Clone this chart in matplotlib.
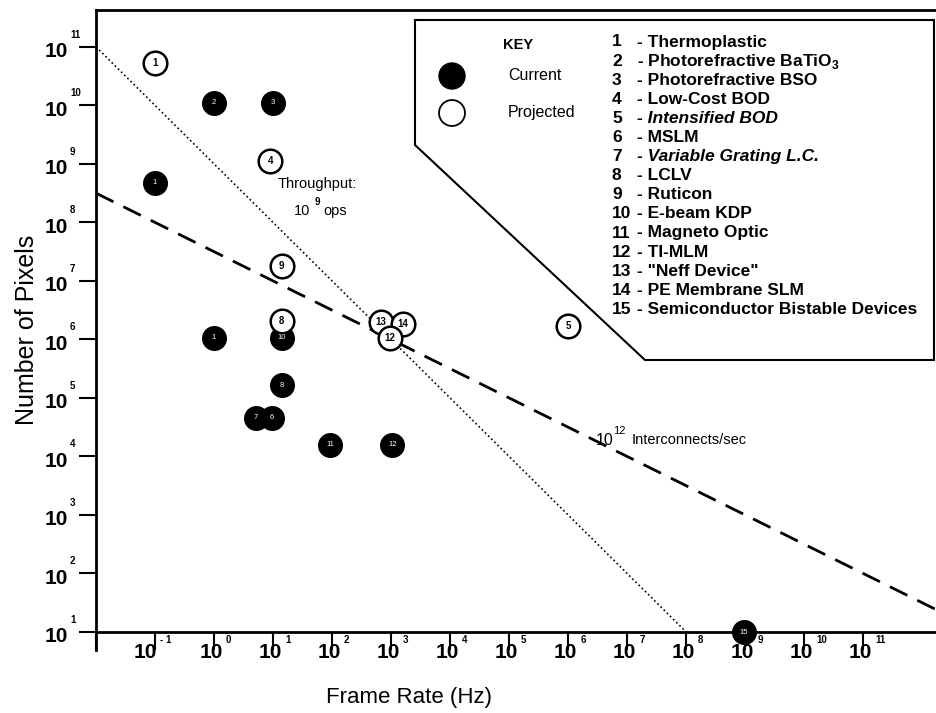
import matplotlib
matplotlib.use('Agg')
import matplotlib.pyplot as plt
import matplotlib.patches as patches
import numpy as np

plt.rcParams['font.family'] = ['Liberation Sans', 'DejaVu Sans']
plt.rcParams['mathtext.fontset'] = 'custom'
plt.rcParams['mathtext.rm'] = 'Liberation Sans:bold'

W, H = 937, 713

# current devices (filled)
cur_rate = [1e-1, 1, 10, 1, 14, 14, 5.1, 9.5, 93, 1050, 9.5e8]
cur_pix = [4.8e8, 1.1e10, 1.1e10, 1.07e6, 1.07e6, 1.66e5, 4.6e4, 4.6e4, 1.6e4, 1.6e4, 10]
cur_id = ['1', '2', '3', '1', '10', '8', '7', '6', '11', '12', '15']

# projected devices (open)
proj_rate = [1e-1, 9, 14, 14, 680, 1580, 955, 1e6]
proj_pix = [5.4e10, 1.1e9, 1.8e7, 2.1e6, 2.0e6, 1.8e6, 1.07e6, 1.7e6]
proj_id = ['1', '4', '9', '8', '13', '14', '12', '5']

# key entries
key_num = [str(i) for i in range(1, 16)]
key_name = ['Thermoplastic', r'Photorefractive BaTiO$_3$', 'Photorefractive BSO',
            'Low-Cost BOD', 'Intensified BOD', 'MSLM', 'Variable Grating L.C.',
            'LCLV', 'Ruticon', 'E-beam KDP', 'Magneto Optic', 'TI-MLM',
            '"Neff Device"', 'PE Membrane SLM', 'Semiconductor Bistable Devices']
key_italic = [5, 7]

x_exp = list(range(-1, 12))
y_exp = list(range(1, 12))

# throughput lines
rate_line = np.logspace(-2, 12.25, 200)
ops = 1e9                       # N * f
interconnect = 10 ** 7.5        # N * sqrt(f)


def fx(px):
    return px / W


def fy(py):
    return 1 - py / H


fig = plt.figure(figsize=(W / 100, H / 100), dpi=100)
ax = fig.add_axes([fx(96), fy(632), fx(937) - fx(96), fy(10) - fy(632)])
ax.set_xscale('log')
ax.set_yscale('log')
ax.set_xlim(1e-2, 10 ** 12.25)
ax.set_ylim(10, 10 ** 11.63)

for s in ['left', 'top', 'bottom']:
    ax.spines[s].set_linewidth(2)
ax.spines['right'].set_visible(False)
ax.spines['left'].set_bounds(10 ** 0.7, 10 ** 11.63)
ax.spines['left'].set_clip_on(False)

ax.set_xticks([10.0 ** e for e in range(-2, 12)])
ax.set_yticks([10.0 ** e for e in y_exp])
ax.minorticks_off()
ax.tick_params(axis='x', direction='out', length=13, width=1.5, labelbottom=False)
ax.tick_params(axis='y', direction='out', length=12, width=1.5, labelleft=False)

# power-of-ten tick labels
for e in x_exp:
    sup = str(e) if e >= 0 else '- 1'
    shift = 9 if e >= 0 else 2
    ax.annotate('10', xy=(10.0 ** e, 0), xycoords=('data', 'axes fraction'),
                xytext=(shift, -21), textcoords='offset pixels', ha='right', va='center',
                fontsize=15, fontweight='bold', annotation_clip=False)
    ax.annotate(sup, xy=(10.0 ** e, 0), xycoords=('data', 'axes fraction'),
                xytext=(shift + 3, -8), textcoords='offset pixels', ha='left', va='center',
                fontsize=7, fontweight='bold', annotation_clip=False)
for e in y_exp:
    ax.annotate('10', xy=(0, 10.0 ** e), xycoords=('axes fraction', 'data'),
                xytext=(-28, -5), textcoords='offset pixels', ha='right', va='center',
                fontsize=15, fontweight='bold', annotation_clip=False)
    ax.annotate(str(e), xy=(0, 10.0 ** e), xycoords=('axes fraction', 'data'),
                xytext=(-26, 12), textcoords='offset pixels', ha='left', va='center',
                fontsize=7, fontweight='bold', annotation_clip=False)

ax.set_xlabel('Frame Rate (Hz)', fontsize=16)
ax.set_ylabel('Number of Pixels', fontsize=18)
ax.xaxis.set_label_coords(0.372, -0.088)
ax.yaxis.set_label_coords(-0.068, 0.486)

# throughput lines
ax.plot(rate_line, ops / rate_line, color='black', linestyle=':', linewidth=1.2)
ax.plot(rate_line, interconnect / np.sqrt(rate_line), color='black',
        linestyle=(0, (7, 4)), linewidth=2)

ax.text(10 ** 1.08, 10 ** 8.66, 'Throughput:', fontsize=10.5, ha='left', va='center')
ax.text(10 ** 1.35, 10 ** 8.2, '10', fontsize=10.5, ha='left', va='center')
ax.text(10 ** 1.7, 10 ** 8.35, '9', fontsize=7, ha='left', va='center', fontweight='bold')
ax.text(10 ** 1.85, 10 ** 8.2, 'ops', fontsize=10.5, ha='left', va='center')
ax.text(10 ** 6.47, 10 ** 4.28, '10', fontsize=11.5, ha='left', va='center')
ax.text(10 ** 6.77, 10 ** 4.43, '12', fontsize=8, ha='left', va='center')
ax.text(10 ** 7.07, 10 ** 4.28, 'Interconnects/sec', fontsize=10.5, ha='left', va='center')

# markers
for r, p, t in zip(cur_rate, cur_pix, cur_id):
    ax.plot(r, p, 'o', markersize=17, markerfacecolor='black', markeredgecolor='black',
            clip_on=False, zorder=4)
    ax.text(r, p, t, color='white', fontsize=5.5, ha='center', va='center', zorder=5)
for r, p, t in zip(proj_rate, proj_pix, proj_id):
    ax.plot(r, p, 'o', markersize=17, markerfacecolor='white', markeredgecolor='black',
            markeredgewidth=1.8, zorder=4)
    ax.text(r, p, t, color='black', fontsize=7, fontweight='bold', ha='center',
            va='center', zorder=5)

# key box
box = patches.Polygon([(fx(415), fy(20)), (fx(934), fy(20)), (fx(934), fy(360)),
                       (fx(645), fy(360)), (fx(415), fy(145))], closed=True,
                      transform=fig.transFigure, facecolor='white', edgecolor='black',
                      linewidth=1.5, zorder=3)
fig.add_artist(box)
fig.text(fx(503), fy(45), 'KEY', fontsize=10.5, fontweight='bold', va='center', zorder=4)
fig.add_artist(patches.Ellipse((fx(452), fy(76)), 26 / W, 26 / H, transform=fig.transFigure,
                               facecolor='black', edgecolor='black', zorder=4))
fig.add_artist(patches.Ellipse((fx(452), fy(113)), 26 / W, 26 / H, transform=fig.transFigure,
                               facecolor='white', edgecolor='black', linewidth=1.3, zorder=4))
fig.text(fx(508), fy(76), 'Current', fontsize=11.5, va='center', zorder=4)
fig.text(fx(508), fy(113), 'Projected', fontsize=11.5, va='center', zorder=4)
for i, (n, name) in enumerate(zip(key_num, key_name)):
    y = fy(42 + i * 19.1)
    fig.text(fx(612), y, n, fontsize=12.5, fontweight='bold', va='center', zorder=4)
    style = 'italic' if i + 1 in key_italic else 'normal'
    fig.text(fx(637), y, '- ' + name, fontsize=12.5, fontweight='bold', style=style,
             va='center', zorder=4)

fig.savefig('out.png', dpi=100)
